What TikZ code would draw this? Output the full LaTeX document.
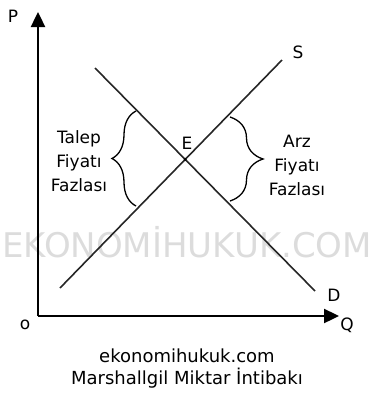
\documentclass[tikz,border=0pt]{standalone}
\usepackage{fontspec}
\setmainfont{DejaVu Sans}
\usetikzlibrary{arrows.meta,decorations.pathreplacing}
\definecolor{MarkGray}{HTML}{DCDCDC}
\tikzset{
    axisline/.style={line width=2.4pt, -{Triangle[length=15pt,width=14pt]}},
    curveline/.style={line width=1.6pt, draw=black!85},
    bracebar/.style={line width=1.3pt, decorate, decoration={brace, amplitude=#1}},
    axislabel/.style={font=\fontsize{17}{20}\selectfont, inner sep=0pt},
    gaplabel/.style={font=\fontsize{17}{24}\selectfont, align=center, inner sep=0pt},
    captiontext/.style={font=\fontsize{18}{22}\selectfont, inner sep=0pt, anchor=base},
    watermark/.style={font=\fontsize{34}{40}\selectfont, text=MarkGray, inner sep=0pt, anchor=base}
}
\begin{document}
\begin{tikzpicture}[x=1pt, y=-1pt]
    \useasboundingbox (0,0) rectangle (374,397);
    \node[watermark] (mark) at (187,257) {EKONOMİHUKUK.COM};
    % axes
    \coordinate (O) at (38,316);
    \coordinate (ytip) at (38,12);
    \coordinate (xtip) at (339,316);
    \draw[axisline] (O) -- (ytip);
    \draw[axisline] (O) -- (xtip);
    \node[axislabel] (plabel) at (13,16) {P};
    \node[axislabel] (qlabel) at (347,325) {Q};
    \node[axislabel] (olabel) at (25,325) {o};
    % supply and demand
    \coordinate (s1) at (60,288);
    \coordinate (s2) at (282,60);
    \coordinate (d1) at (95,68);
    \coordinate (d2) at (315,291);
    \draw[curveline] (s1) -- (s2);
    \draw[curveline] (d1) -- (d2);
    \coordinate (E) at (intersection of s1--s2 and d1--d2);
    \fill (E) circle (1.6pt);
    \node[axislabel] (slabel) at (298,52) {S};
    \node[axislabel] (dlabel) at (334,295) {D};
    \node[axislabel] (elabel) at (187,143) {E};
    % surpluses
    \coordinate (lb1) at (136,206);
    \coordinate (lb2) at (136,111);
    \coordinate (rb1) at (230,117);
    \coordinate (rb2) at (230,201);
    \draw[bracebar=24pt] (lb1) -- (lb2);
    \draw[bracebar=33pt] (rb1) -- (rb2);
    \node[gaplabel] (talep) at (79,161) {Talep\\Fiyatı\\Fazlası};
    \node[gaplabel] (arz) at (297,165) {Arz\\Fiyatı\\Fazlası};
    \node[captiontext] (site) at (187,362) {ekonomihukuk.com};
    \node[captiontext] (title) at (187,384) {Marshallgil Miktar İntibakı};
\end{tikzpicture}
\end{document}
